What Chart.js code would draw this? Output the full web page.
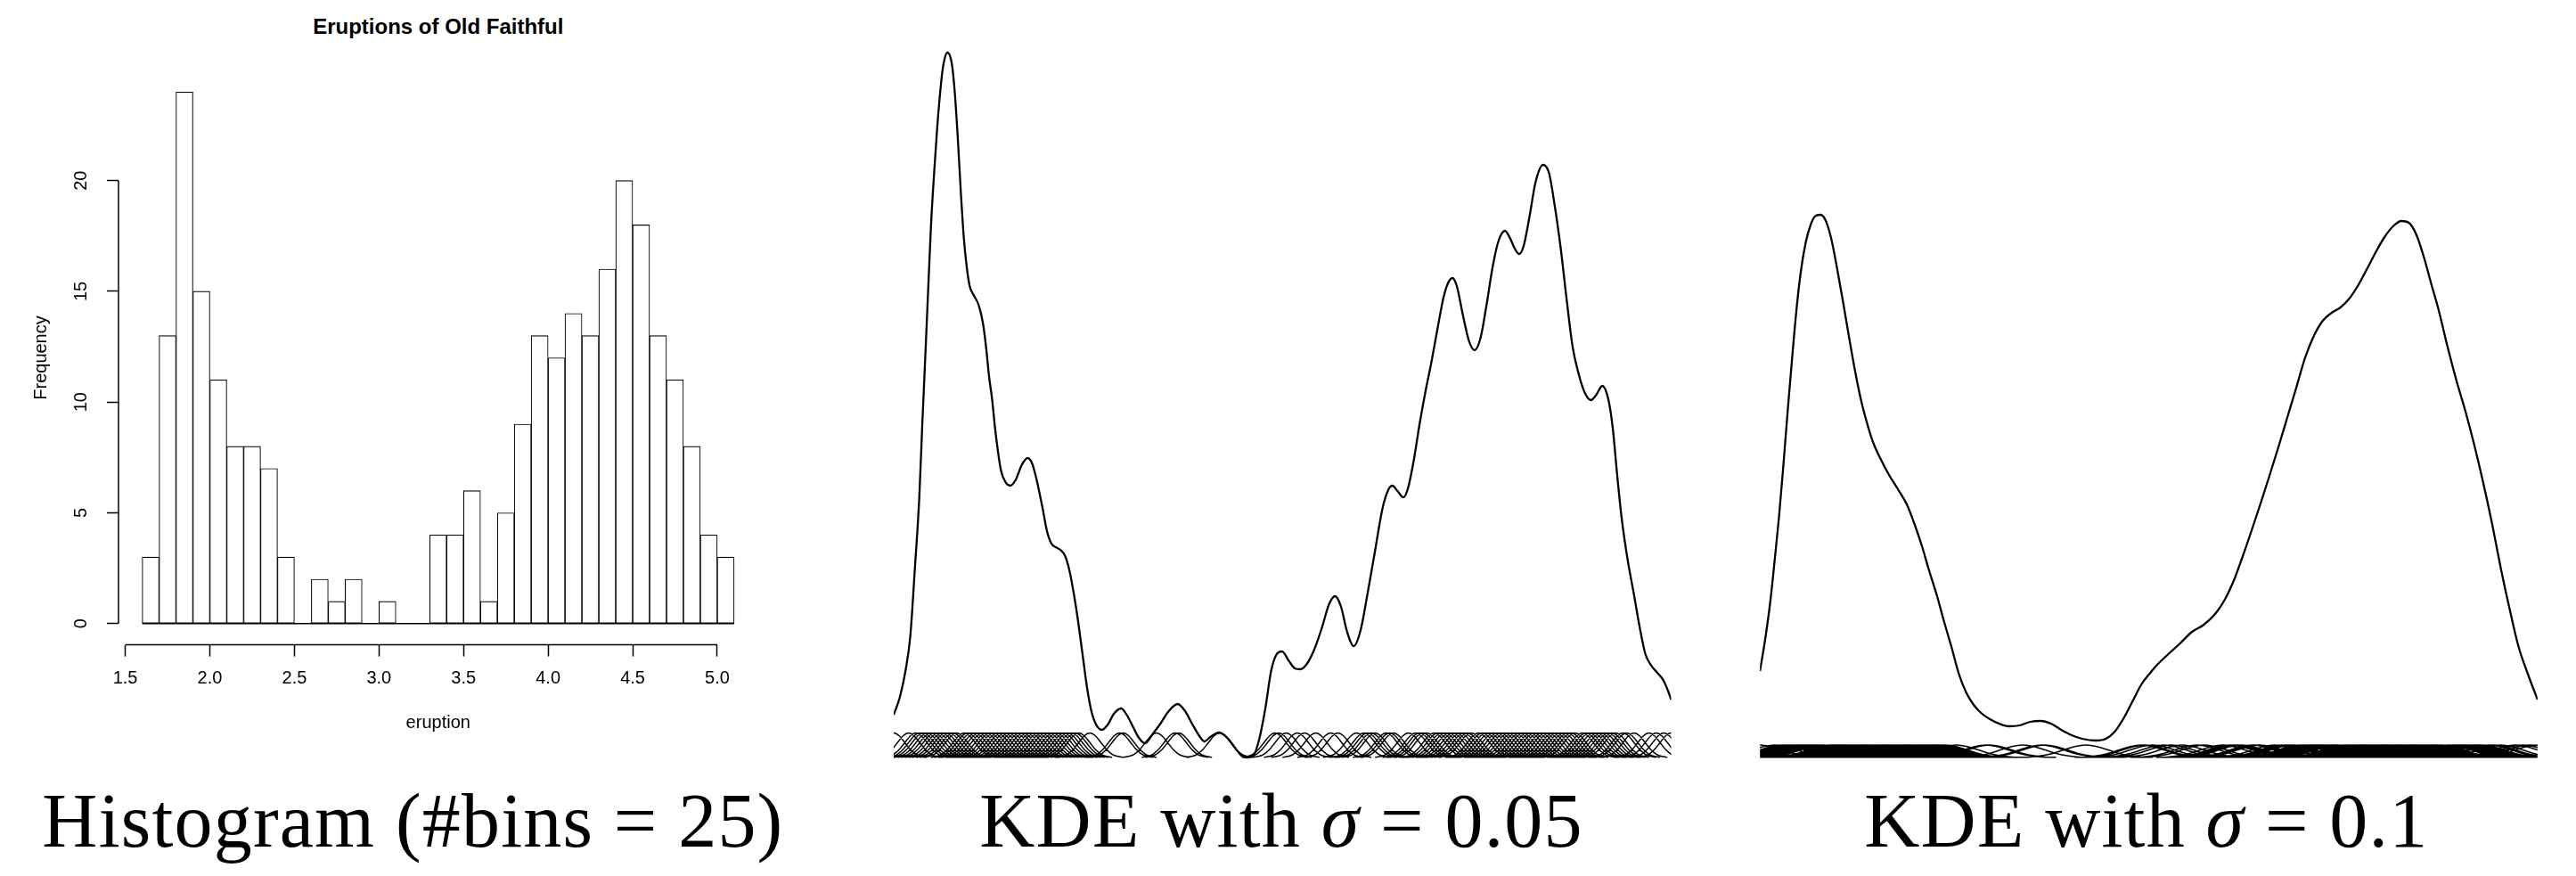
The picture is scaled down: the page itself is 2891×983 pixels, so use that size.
<!DOCTYPE html>
<html>
<head>
<meta charset="utf-8">
<title>Old Faithful eruptions: histogram and KDE</title>
<script src="https://cdn.jsdelivr.net/npm/chart.js@4.4.1/dist/chart.umd.min.js"></script>
<style>
  html, body { margin: 0; padding: 0; background: #fff; }
  #page { position: relative; width: 2891px; height: 983px; overflow: hidden; background: #fff; }
  canvas { position: absolute; top: 0; }
  .caption {
    position: absolute; top: 878px; width: 1000px; text-align: center;
    font-family: "Liberation Serif", "Times New Roman", serif; font-size: 86px;
    line-height: 1; letter-spacing: 1.2px; color: #000; white-space: nowrap;
  }
  #histTitle {
    position: absolute; left: 291.8px; width: 400px; top: 17.6px; text-align: center;
    font: bold 24px/1 "Liberation Sans", Arial, sans-serif; color: #000; white-space: nowrap;
  }
</style>
</head>
<body>
<div id="page">
  <div id="histTitle">Eruptions of Old Faithful</div>
  <canvas id="hist" width="960" height="880" style="left:0"></canvas>
  <canvas id="kde05" width="960" height="880" style="left:960px"></canvas>
  <canvas id="kde10" width="961" height="880" style="left:1930px"></canvas>
  <div class="caption" style="left:-36.6px">Histogram (#bins = 25)</div>
  <div class="caption" style="left:938px">KDE with <i>σ</i> = 0.05</div>
  <div class="caption" style="left:1908.8px">KDE with <i>σ</i> = 0.1</div>
</div>
<script>
// histogram (left panel)
const binEdges = [1.6, 1.7, 1.8, 1.9, 2.0, 2.1, 2.2, 2.3, 2.4, 2.5, 2.6, 2.7, 2.8, 2.9, 3.0, 3.1, 3.2, 3.3,
                  3.4, 3.5, 3.6, 3.7, 3.8, 3.9, 4.0, 4.1, 4.2, 4.3, 4.4, 4.5, 4.6, 4.7, 4.8, 4.9, 5.0, 5.1];
const binCounts = [3, 13, 24, 15, 11, 8, 8, 7, 3, 0, 2, 1, 2, 0, 1, 0, 0,
                   4, 4, 6, 1, 5, 9, 13, 12, 14, 13, 16, 20, 18, 13, 11, 8, 4, 3];
const xTicks = [1.5, 2.0, 2.5, 3.0, 3.5, 4.0, 4.5, 5.0];
const yTicks = [0, 5, 10, 15, 20];

// KDE curve, sigma = 0.05 (middle panel)
const kde05X = [1.600, 1.628, 1.655, 1.675, 1.695, 1.715, 1.728, 1.742, 1.755, 1.768, 1.782, 1.795, 1.809, 1.822,
  1.842, 1.862, 1.875, 1.889, 1.902, 1.916, 1.929, 1.942, 1.962, 1.982, 2.002, 2.016, 2.029, 2.043, 2.056, 2.069,
  2.083, 2.103, 2.125, 2.150, 2.176, 2.203, 2.223, 2.243, 2.270, 2.290, 2.310, 2.330, 2.350, 2.370, 2.390, 2.410,
  2.430, 2.450, 2.470, 2.490, 2.511, 2.537, 2.564, 2.591, 2.624, 2.651, 2.678, 2.704, 2.731, 2.765, 2.798, 2.838,
  2.878, 2.912, 2.945, 2.979, 2.999, 3.025, 3.065, 3.106, 3.139, 3.166, 3.192, 3.219, 3.246, 3.273, 3.299, 3.322,
  3.348, 3.380, 3.406, 3.430, 3.460, 3.493, 3.527, 3.560, 3.587, 3.614, 3.640, 3.671, 3.701, 3.734, 3.767, 3.801,
  3.828, 3.845, 3.868, 3.894, 3.914, 3.941, 3.968, 3.995, 4.021, 4.048, 4.075, 4.095, 4.115, 4.135, 4.162, 4.189,
  4.215, 4.242, 4.269, 4.296, 4.322, 4.352, 4.376, 4.396, 4.416, 4.436, 4.463, 4.489, 4.523, 4.550, 4.576, 4.603,
  4.630, 4.657, 4.683, 4.710, 4.739, 4.763, 4.790, 4.817, 4.837, 4.857, 4.877, 4.904, 4.931, 4.957, 4.984, 5.011,
  5.038, 5.064, 5.084, 5.100];
const kde05Y = [0.048, 0.068, 0.100, 0.137, 0.211, 0.291, 0.370, 0.449, 0.524, 0.598, 0.656, 0.704, 0.746, 0.775,
  0.791, 0.778, 0.746, 0.693, 0.635, 0.582, 0.550, 0.529, 0.518, 0.508, 0.487, 0.460, 0.428, 0.402, 0.370, 0.344,
  0.322, 0.309, 0.305, 0.312, 0.328, 0.336, 0.330, 0.312, 0.280, 0.254, 0.240, 0.236, 0.233, 0.227, 0.211, 0.185,
  0.153, 0.116, 0.079, 0.052, 0.037, 0.031, 0.037, 0.049, 0.055, 0.047, 0.034, 0.022, 0.016, 0.026, 0.037, 0.052,
  0.060, 0.052, 0.037, 0.023, 0.018, 0.023, 0.028, 0.021, 0.010, 0.002, 0.000, 0.002, 0.021, 0.055, 0.097, 0.115,
  0.119, 0.108, 0.100, 0.099, 0.105, 0.121, 0.145, 0.172, 0.181, 0.169, 0.142, 0.125, 0.142, 0.185, 0.232, 0.280,
  0.301, 0.305, 0.299, 0.292, 0.301, 0.333, 0.375, 0.412, 0.444, 0.481, 0.516, 0.532, 0.538, 0.529, 0.497, 0.468,
  0.457, 0.471, 0.508, 0.550, 0.579, 0.591, 0.582, 0.571, 0.565, 0.574, 0.608, 0.645, 0.665, 0.656, 0.619, 0.571,
  0.513, 0.460, 0.431, 0.410, 0.401, 0.407, 0.417, 0.402, 0.370, 0.317, 0.269, 0.222, 0.185, 0.148, 0.116, 0.103,
  0.095, 0.087, 0.076, 0.065];

// KDE curve, sigma = 0.1 (right panel)
const kde10X = [1.600, 1.626, 1.646, 1.666, 1.686, 1.706, 1.726, 1.746, 1.766, 1.786, 1.806, 1.827, 1.847, 1.871,
  1.893, 1.920, 1.947, 1.974, 2.000, 2.027, 2.054, 2.081, 2.107, 2.141, 2.181, 2.221, 2.261, 2.294, 2.328, 2.361,
  2.395, 2.428, 2.462, 2.495, 2.528, 2.562, 2.595, 2.635, 2.676, 2.722, 2.769, 2.816, 2.863, 2.910, 2.956, 3.003,
  3.050, 3.110, 3.157, 3.197, 3.237, 3.277, 3.317, 3.357, 3.384, 3.438, 3.491, 3.545, 3.598, 3.652, 3.692, 3.732,
  3.772, 3.812, 3.852, 3.892, 3.932, 3.973, 4.013, 4.053, 4.093, 4.133, 4.173, 4.213, 4.253, 4.293, 4.334, 4.374,
  4.414, 4.454, 4.487, 4.521, 4.554, 4.588, 4.621, 4.654, 4.695, 4.735, 4.775, 4.815, 4.855, 4.895, 4.935, 4.975,
  5.015, 5.056, 5.100];
const kde10Y = [0.097, 0.137, 0.174, 0.221, 0.271, 0.330, 0.393, 0.452, 0.507, 0.549, 0.578, 0.597, 0.607, 0.609,
  0.604, 0.583, 0.549, 0.511, 0.473, 0.435, 0.402, 0.376, 0.355, 0.336, 0.317, 0.301, 0.284, 0.263, 0.238, 0.210,
  0.183, 0.153, 0.124, 0.094, 0.073, 0.059, 0.050, 0.043, 0.038, 0.035, 0.036, 0.040, 0.041, 0.038, 0.031, 0.025,
  0.021, 0.019, 0.021, 0.029, 0.044, 0.063, 0.082, 0.095, 0.103, 0.116, 0.128, 0.141, 0.149, 0.162, 0.177, 0.198,
  0.225, 0.254, 0.284, 0.315, 0.347, 0.381, 0.414, 0.448, 0.473, 0.490, 0.499, 0.505, 0.515, 0.530, 0.549, 0.568,
  0.585, 0.597, 0.602, 0.600, 0.587, 0.562, 0.532, 0.503, 0.461, 0.423, 0.389, 0.351, 0.309, 0.263, 0.212, 0.166,
  0.124, 0.094, 0.065];

// positions of the single kernels drawn along the bottom (one per eruption)
const kernelCenters = [
  1.600, 1.667, 1.700,
  1.717, 1.733, 1.750, 1.750, 1.750, 1.750, 1.750, 1.767, 1.783, 1.783, 1.800, 1.800, 1.800,
  1.817, 1.817, 1.817, 1.817, 1.833, 1.833, 1.833, 1.833, 1.833, 1.833, 1.833, 1.833, 1.850, 1.850,
  1.867, 1.867, 1.867, 1.867, 1.867, 1.867, 1.867, 1.883, 1.883, 1.883,
  1.917, 1.917, 1.933, 1.933, 1.950, 1.967, 1.967, 1.967, 1.983, 1.983, 1.983, 2.000, 2.000, 2.000, 2.000,
  2.017, 2.017, 2.017, 2.033, 2.033, 2.050, 2.067, 2.083, 2.083, 2.100, 2.100,
  2.117, 2.133, 2.150, 2.167, 2.167, 2.183, 2.200, 2.200,
  2.217, 2.233, 2.233, 2.250, 2.250, 2.267, 2.283, 2.300,
  2.317, 2.333, 2.350, 2.367, 2.383, 2.400, 2.400,
  2.417, 2.433, 2.483,
  2.617, 2.633, 2.783, 2.867, 2.883, 3.067,
  3.317, 3.333, 3.333, 3.367,
  3.417, 3.450, 3.500, 3.500,
  3.567, 3.567, 3.600, 3.600, 3.600, 3.600,
  3.683,
  3.717, 3.733, 3.750, 3.767, 3.767,
  3.817, 3.833, 3.833, 3.833, 3.833, 3.833, 3.833, 3.850, 3.850,
  3.917, 3.917, 3.917, 3.950, 3.950, 3.967, 3.983, 4.000, 4.000, 4.000, 4.000, 4.000, 4.000,
  4.033, 4.033, 4.050, 4.067, 4.067, 4.083, 4.083, 4.083, 4.083, 4.083, 4.100, 4.100,
  4.117, 4.117, 4.133, 4.133, 4.150, 4.150, 4.150, 4.150, 4.167, 4.167, 4.167, 4.167, 4.183, 4.200,
  4.233, 4.233, 4.233, 4.233, 4.250, 4.250, 4.250, 4.250, 4.267, 4.267, 4.283, 4.283, 4.300,
  4.317, 4.333, 4.333, 4.333, 4.333, 4.333, 4.350, 4.350, 4.350, 4.350, 4.367, 4.367, 4.367, 4.383, 4.400, 4.400,
  4.417, 4.417, 4.417, 4.417, 4.417, 4.433, 4.433, 4.450, 4.450, 4.450, 4.467, 4.467, 4.483,
  4.500, 4.500, 4.500, 4.500, 4.500, 4.500, 4.500,
  4.517, 4.533, 4.533, 4.533, 4.533, 4.533, 4.550, 4.567, 4.567, 4.567, 4.583, 4.583, 4.583, 4.583, 4.583,
  4.600, 4.600, 4.600,
  4.617, 4.633, 4.633, 4.633, 4.650, 4.667, 4.667, 4.700, 4.700, 4.700, 4.700, 4.700, 4.700,
  4.717, 4.733, 4.750, 4.767, 4.783, 4.800, 4.800, 4.800, 4.800, 4.800, 4.800,
  4.817, 4.817, 4.817, 4.833, 4.833, 4.850, 4.883, 4.900,
  4.933, 4.933, 4.933, 5.000,
  5.033, 5.067, 5.100
];
// shape of one kernel: offsets in sigma, relative height
const kernelOffsets = [-3, -2.5, -2, -1.5, -1, -0.5, 0, 0.5, 1, 1.5, 2, 2.5, 3];
const kernelShape = [0.011, 0.044, 0.135, 0.325, 0.607, 0.882, 1, 0.882, 0.607, 0.325, 0.135, 0.044, 0.011];

Chart.defaults.font.family = '"Liberation Sans", Arial, sans-serif';
Chart.defaults.color = '#000';

const noPlugins = { legend: { display: false }, tooltip: { enabled: false } };
const axisLine = { type: 'line', borderColor: '#000', borderWidth: 1.5, pointRadius: 0, clip: false, order: 1 };

// ---- histogram ----
const X_MIN = 1.46, X_MAX = 5.24, Y_MIN = -0.96, Y_MAX = 24.96;

const histBars = binCounts.map((n, i) => ({ x: (binEdges[i] + binEdges[i + 1]) / 2, y: n }));

new Chart(document.getElementById('hist'), {
  type: 'line',
  data: {
    datasets: [
      {
        type: 'bar', data: histBars, backgroundColor: '#fff', borderColor: '#000',
        borderWidth: 1.1, borderSkipped: false, barPercentage: 1, categoryPercentage: 1, order: 2
      },
      // bottom of the empty bins
      { ...axisLine, data: [{ x: binEdges[0], y: 0 }, { x: binEdges[binEdges.length - 1], y: 0 }], borderWidth: 1.5 },
      // axis lines, R style (only between first and last tick)
      { ...axisLine, data: [{ x: xTicks[0], y: Y_MIN }, { x: xTicks[xTicks.length - 1], y: Y_MIN }] },
      { ...axisLine, data: [{ x: X_MIN, y: yTicks[0] }, { x: X_MIN, y: yTicks[yTicks.length - 1] }] }
    ]
  },
  options: {
    responsive: false,
    animation: false,
    events: [],
    layout: { padding: { left: 0, right: 109.5, top: 79.4, bottom: 36.4 } },
    plugins: noPlugins,
    scales: {
      x: {
        type: 'linear', min: X_MIN, max: X_MAX, offset: false,
        afterBuildTicks: s => { s.ticks = xTicks.map(v => ({ value: v })); },
        afterFit: s => { s.height = 120; },
        border: { display: false },
        grid: { drawOnChartArea: false, offset: false, tickLength: 13, tickColor: '#000', tickWidth: 1.5 },
        ticks: { font: { size: 20 }, color: '#000', padding: 12.9, maxRotation: 0, autoSkip: false,
                 callback: v => v.toFixed(1) },
        title: { display: true, text: 'eruption', font: { size: 20 }, color: '#000', padding: { top: 0, bottom: 20.6 } }
      },
      y: {
        type: 'linear', min: Y_MIN, max: Y_MAX,
        afterBuildTicks: s => { s.ticks = yTicks.map(v => ({ value: v })); },
        afterFit: s => { s.width = 133; },
        border: { display: false },
        grid: { drawOnChartArea: false, tickLength: 13, tickColor: '#000', tickWidth: 1.5 },
        ticks: { font: { size: 20 }, color: '#000', padding: 16.9, minRotation: 90, maxRotation: 90,
                 crossAlign: 'center', autoSkip: false },
        title: { display: true, text: 'Frequency', font: { size: 20 }, color: '#000', padding: { top: 34, bottom: 0 } }
      }
    }
  }
});

// ---- KDE panels ----
function kernelBumps(sigma, height) {
  const pts = [];
  kernelCenters.forEach(c => {
    kernelOffsets.forEach((k, i) => pts.push({ x: c + k * sigma, y: kernelShape[i] * height }));
    pts.push({ x: c, y: null }); // break between kernels
  });
  return pts;
}

function kdeChart(id, xs, ys, sigma, bumpHeight, yMax, pad) {
  return new Chart(document.getElementById(id), {
    type: 'line',
    data: {
      datasets: [
        {
          data: xs.map((x, i) => ({ x: x, y: ys[i] })),
          borderColor: '#000', borderWidth: 2.3, pointRadius: 0, cubicInterpolationMode: 'monotone'
        },
        {
          data: kernelBumps(sigma, bumpHeight),
          borderColor: '#000', borderWidth: 1.5, pointRadius: 0, cubicInterpolationMode: 'monotone', spanGaps: false
        }
      ]
    },
    options: {
      responsive: false,
      animation: false,
      events: [],
      layout: { padding: pad },
      plugins: noPlugins,
      scales: {
        x: { type: 'linear', display: false, min: 1.6, max: 5.1 },
        y: { type: 'linear', display: false, min: -0.003, max: yMax }
      }
    }
  });
}

kdeChart('kde05', kde05X, kde05Y, 0.05, 0.0275, 0.8, { left: 43, right: 44.5, top: 50, bottom: 27 });
kdeChart('kde10', kde10X, kde10Y, 0.1, 0.014, 0.65, { left: 45.2, right: 43.2, top: 200, bottom: 27 });
</script>
</body>
</html>
